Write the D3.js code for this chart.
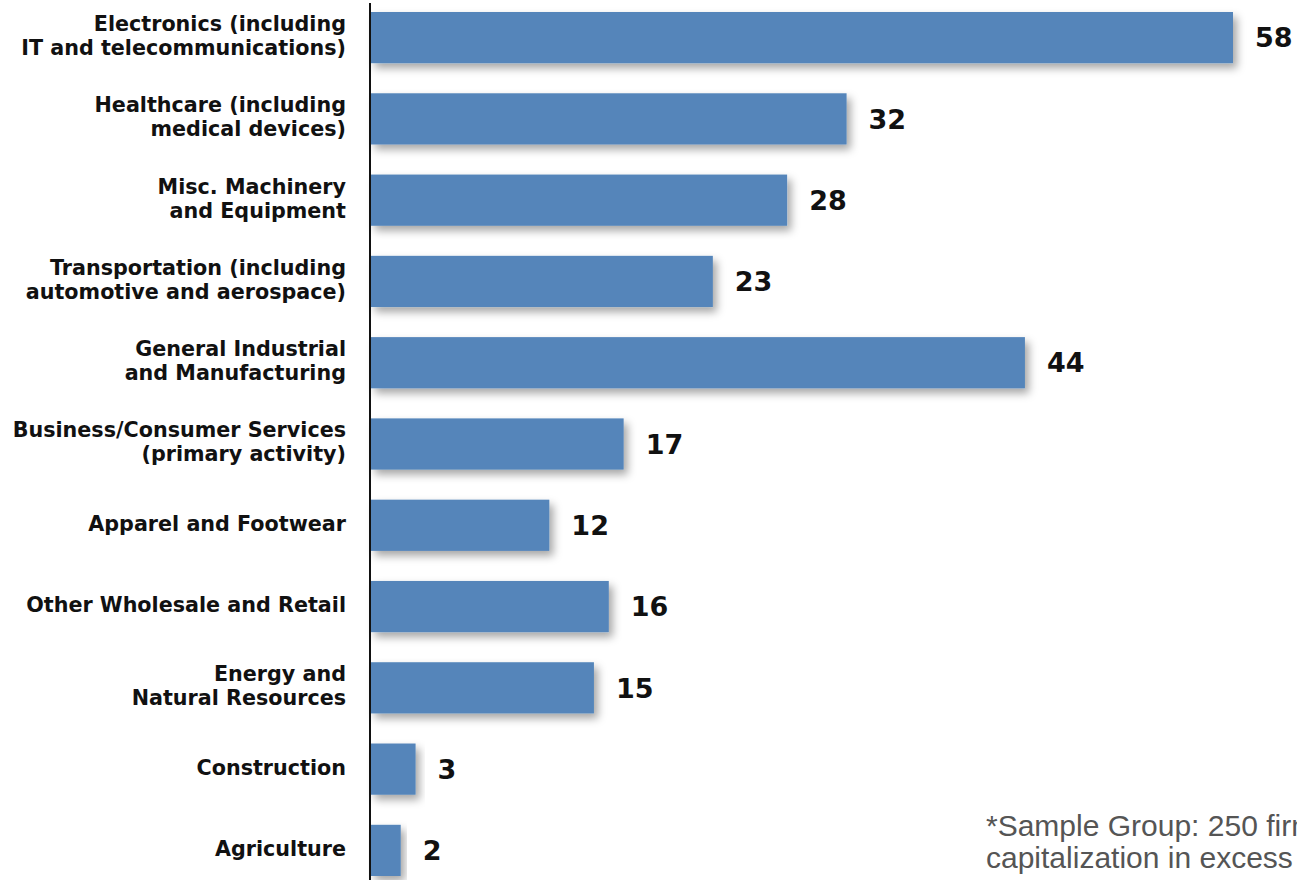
<!DOCTYPE html>
<html>
<head>
<meta charset="utf-8">
<script src="https://cdn.jsdelivr.net/npm/d3@7.9.0/dist/d3.min.js"></script>
<style>
  html, body { margin: 0; padding: 0; background: #fff; overflow: hidden; }
  svg { display: block; }
</style>
</head>
<body>
<svg id="chart" width="1297" height="880"></svg>
<script>
// data
const categories = [
  ["Electronics (including", "IT and telecommunications)"],
  ["Healthcare (including", "medical devices)"],
  ["Misc. Machinery", "and Equipment"],
  ["Transportation (including", "automotive and aerospace)"],
  ["General Industrial", "and Manufacturing"],
  ["Business/Consumer Services", "(primary activity)"],
  ["Apparel and Footwear"],
  ["Other Wholesale and Retail"],
  ["Energy and", "Natural Resources"],
  ["Construction"],
  ["Agriculture"]
];
const values = [58, 32, 28, 23, 44, 17, 12, 16, 15, 3, 2];
const footnote = ["*Sample Group: 250 firms with", "capitalization in excess of"];

const keys = categories.map(d => d.join(" "));

const svg = d3.select("#chart");

// soft drop shadow under bars
const defs = svg.append("defs");
defs.append("filter")
    .attr("id", "shadow")
    .attr("x", "-10%").attr("y", "-30%")
    .attr("width", "130%").attr("height", "180%")
  .append("feDropShadow")
    .attr("dx", 4).attr("dy", 5)
    .attr("stdDeviation", 4)
    .attr("flood-color", "#000")
    .attr("flood-opacity", 0.35);

const x = d3.scaleLinear().domain([0, 58]).range([371, 1233]);
const y = d3.scaleBand().domain(keys).range([12, 876]).paddingInner(0.37).paddingOuter(0);

// bars
svg.append("g")
  .selectAll("rect")
  .data(values)
  .join("rect")
    .attr("x", x(0))
    .attr("y", (d, i) => y(keys[i]))
    .attr("width", d => x(d) - x(0))
    .attr("height", y.bandwidth())
    .attr("fill", "#5485ba")
    .attr("filter", "url(#shadow)");

// value labels
svg.append("g")
  .selectAll("text")
  .data(values)
  .join("text")
    .attr("x", d => x(d) + 22)
    .attr("y", (d, i) => y(keys[i]) + y.bandwidth() / 2)
    .attr("dy", "0.36em")
    .attr("font-family", "DejaVu Sans")
    .attr("font-weight", "bold")
    .attr("font-size", 27)
    .attr("fill", "#111")
    .text(d => d);

// category labels (one or two lines, right aligned)
const lineH = 24;
const labels = svg.append("g")
  .selectAll("text")
  .data(categories)
  .join("text")
    .attr("text-anchor", "end")
    .attr("font-family", "DejaVu Sans")
    .attr("font-weight", "bold")
    .attr("font-size", 20.7)
    .attr("fill", "#111")
    .attr("transform", (d, i) => `translate(346,${y(keys[i]) + y.bandwidth() / 2 - 2})`);

labels.selectAll("tspan")
  .data(d => d.map((t, j) => ({ t, j, n: d.length })))
  .join("tspan")
    .attr("x", 0)
    .attr("y", d => (d.j - (d.n - 1) / 2) * lineH)
    .attr("dy", "0.36em")
    .text(d => d.t);

// vertical axis line
svg.append("line")
  .attr("x1", 370).attr("x2", 370)
  .attr("y1", 3).attr("y2", 880)
  .attr("stroke", "#111")
  .attr("stroke-width", 2);

// footnote (runs off the right edge like the original)
svg.append("text")
    .attr("font-family", "Liberation Sans, Arial, sans-serif")
    .attr("font-size", 30)
    .attr("fill", "#555")
  .selectAll("tspan")
  .data(footnote)
  .join("tspan")
    .attr("x", 986)
    .attr("y", (d, i) => 836 + i * 32)
    .text(d => d);
</script>
</body>
</html>
